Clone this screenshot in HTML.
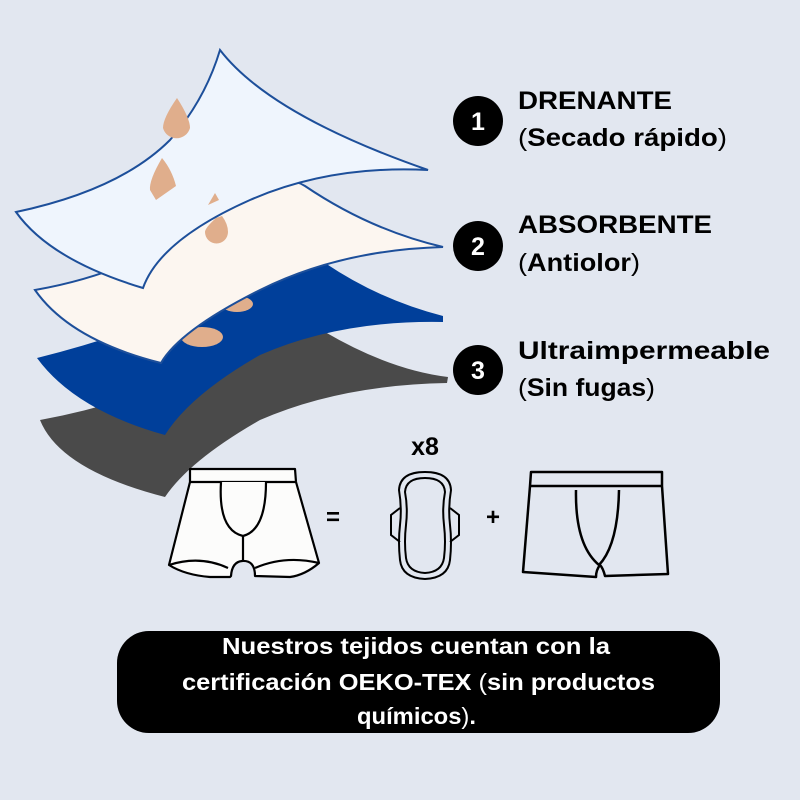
<!DOCTYPE html>
<html><head><meta charset="utf-8"><style>
body{margin:0;background:#e2e7f0;}
svg{display:block}
text{font-family:"Liberation Sans",sans-serif;font-weight:bold}
</style></head><body>
<svg width="800" height="800" viewBox="0 0 800 800" xmlns="http://www.w3.org/2000/svg">
<rect width="800" height="800" fill="#e2e7f0"/>
<path d="M40,420 Q150,400 250,345 Q300,325 325,332 Q390,370 448,377 L447,383 Q340,385 260,420 Q190,460 165,497 Q60,470 40,420 Z" fill="#4a4a4a"/>
<path d="M37,358 Q150,330 250,280 Q300,255 325,263 Q380,300 443,316 L443,322 Q340,320 260,355 Q190,395 165,435 Q75,410 37,358 Z" fill="#003f9a"/>
<ellipse cx="237" cy="304" rx="16" ry="8" fill="#e0ae8c"/>
<ellipse cx="202" cy="337" rx="21" ry="10" fill="#e0ae8c"/>
<path d="M35,290 Q150,270 230,200 Q280,170 305,186 Q370,230 443,247 Q340,250 260,290 Q180,330 161,363 Q70,340 35,290 Z" fill="#fcf6f0" stroke="#1d4f9a" stroke-width="2"/>
<path d="M216,218 Q205,228 205,232 A11,11 0 0 0 228,232 Q228,224 222,216 Z" fill="#e0ae8c"/>
<path d="M16,212 Q120,190 170,140 Q205,100 220,50 Q270,115 428,170 Q330,165 250,200 Q160,240 143,288 Q50,260 16,212 Z" fill="#eff5fd" stroke="#1d4f9a" stroke-width="2"/>
<path d="M177,98 Q163,118 163,128 A14,14 0 0 0 190,128 Q190,118 177,98 Z" fill="#e0ae8c"/>
<path d="M162,158 Q149,180 150,190 L156,200 L176,186 Q172,170 162,158 Z" fill="#e0ae8c"/>
<path d="M215,193 L208,205 L219,200 Z" fill="#e0ae8c"/>
<circle cx="478" cy="121" r="25" fill="#000"/><text x="478" y="130" fill="#fff" font-size="25" text-anchor="middle">1</text>
<text x="518" y="109" font-size="25" textLength="154" lengthAdjust="spacingAndGlyphs">DRENANTE</text>
<text x="518" y="146" font-size="25" textLength="209" lengthAdjust="spacingAndGlyphs"><tspan font-weight="normal">(</tspan>Secado rápido<tspan font-weight="normal">)</tspan></text>
<circle cx="478" cy="246" r="25" fill="#000"/><text x="478" y="255" fill="#fff" font-size="25" text-anchor="middle">2</text>
<text x="518" y="233" font-size="25" textLength="194" lengthAdjust="spacingAndGlyphs">ABSORBENTE</text>
<text x="518" y="271" font-size="25" textLength="122" lengthAdjust="spacingAndGlyphs"><tspan font-weight="normal">(</tspan>Antiolor<tspan font-weight="normal">)</tspan></text>
<circle cx="478" cy="370" r="25" fill="#000"/><text x="478" y="379" fill="#fff" font-size="25" text-anchor="middle">3</text>
<text x="518" y="359" font-size="25" textLength="252" lengthAdjust="spacingAndGlyphs">Ultraimpermeable</text>
<text x="518" y="396" font-size="25" textLength="137" lengthAdjust="spacingAndGlyphs"><tspan font-weight="normal">(</tspan>Sin fugas<tspan font-weight="normal">)</tspan></text>
<g fill="#fcfcfb" stroke="#000" stroke-width="2.2" stroke-linejoin="round">
<path d="M190,469 L295,469 L296,482 L319,563 Q305,575 290,577 L255,576 Q255,560 242,561 Q232,562 231,576 L230,577 L210,577 Q185,575 169,565 L190,482 Z"/>
<path d="M190,482 L296,482"/>
<path d="M221,482 Q218,530 243,536 Q266,530 266,482"/>
<path d="M243,536 L243,561"/>
<path d="M169,565 Q200,555 228,568 M255,568 Q285,555 319,563"/>
</g>
<text x="333" y="525" font-size="24" text-anchor="middle">=</text>
<text x="425" y="455" font-size="25" text-anchor="middle">x8</text>
<g fill="none" stroke="#000" stroke-width="2">
<path d="M425,472 Q450,472 451,490 Q448,508 450,525 Q452,542 450,560 Q448,578 425,579 Q402,578 400,560 Q398,542 400,525 Q402,508 399,490 Q400,472 425,472 Z"/>
<path d="M425,478 Q444,478 445,492 Q442,508 444,525 Q446,542 444,558 Q442,572 425,573 Q408,572 406,558 Q404,542 406,525 Q408,508 405,492 Q406,478 425,478 Z"/>
<path d="M400,508 L391,515 L391,535 L400,542 M450,508 L459,515 L459,535 L450,542"/>
</g>
<text x="493" y="525" font-size="24" text-anchor="middle">+</text>
<g fill="none" stroke="#000" stroke-width="2.5" stroke-linejoin="round">
<path d="M531,472 L662,472 L662,486 L668,574 L605,576 Q603,568 600,565 Q596,570 596,577 L523,572 L530,486 Z"/>
<path d="M530,486 L662,486"/>
<path d="M576,490 Q575,545 599,565 Q618,545 619,490"/>
</g>
<rect x="117" y="631" width="603" height="102" rx="32" fill="#000"/>
<g fill="#fff" font-size="23">
<text x="222" y="654" textLength="388" lengthAdjust="spacingAndGlyphs">Nuestros tejidos cuentan con la</text>
<text x="182" y="690" textLength="473" lengthAdjust="spacingAndGlyphs">certificación OEKO-TEX <tspan font-weight="normal">(</tspan>sin productos</text>
<text x="357" y="724" textLength="119" lengthAdjust="spacingAndGlyphs">químicos<tspan font-weight="normal">)</tspan>.</text>
</g>
</svg>
</body></html>
